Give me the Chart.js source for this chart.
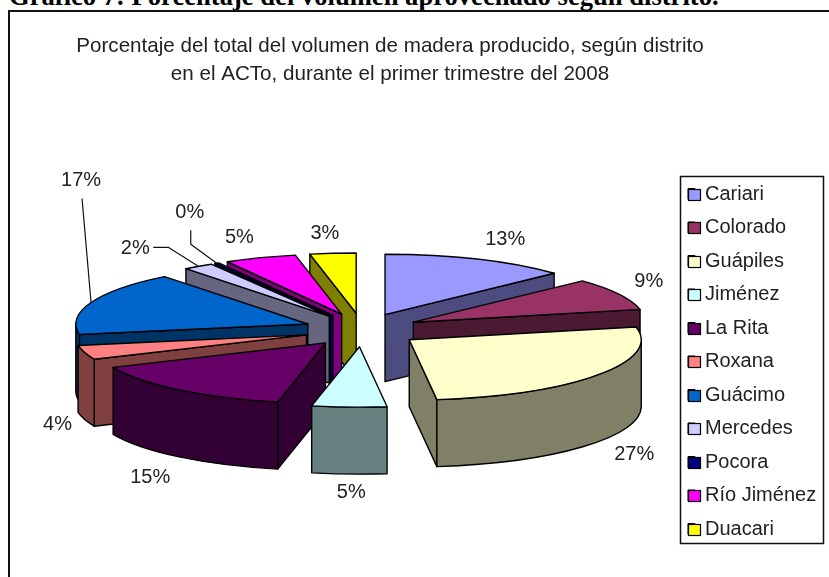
<!DOCTYPE html>
<html lang="es">
<head>
<meta charset="utf-8">
<style>
html,body{margin:0;padding:0;background:#fff;width:829px;height:577px;overflow:hidden}
#heading{position:absolute;left:9px;top:-17px;font:bold 26.6px/26px "Liberation Serif",serif;color:#000;white-space:nowrap}
#frame{position:absolute;left:8px;top:10px;width:900px;height:700px;border-left:2px solid #111;border-top:2px solid #111;box-sizing:border-box}
#wrap{position:absolute;left:0;top:0;width:829px;height:577px}
</style>
<script src="https://cdn.jsdelivr.net/npm/chart.js@4"></script>
</head>
<body>
<div id="heading">Gráfico 7: Porcentaje del volumen aprovechado según distrito.</div>
<div id="frame"></div>
<div id="wrap"><canvas id="c" width="829" height="577"></canvas></div>
<script>
const categories = ["Cariari","Colorado","Guápiles","Jiménez","La Rita","Roxana","Guácimo","Mercedes","Pocora","Río Jiménez","Duacari"];
const values = [13.0,8.6,26.5,5.2,15.1,3.8,17.2,2.1,0.3,5.0,3.2];
const topColors = ["#9999FF","#993366","#FFFFCC","#CCFFFF","#660066","#FF8080","#0066CC","#CCCCFF","#000080","#FF00FF","#FFFF00"];
const sideColors = ["#4C4C80","#4C1933","#808066","#668080","#330033","#804040","#003366","#666680","#000040","#800080","#808000"];
const titleLines = ["Porcentaje del total del volumen de madera producido, según distrito","en el ACTo, durante el primer trimestre del 2008"];
// label placement relative to each slice's rim point
const labelOffsets = [[28,-20],[30,-13],[36,13],[2,18],[-29,21],[-27,5],[-10,-122],[-63,-18],[-27,-51],[-21,-20],[-8,-20]];
const leaderStart = {6:[[1,18]],7:[[18,-1],[33,-1]],8:[[1,18],[1,32]]};

const PIE = {x:362,y:330,squash:0.26,depth:67,explode:58,explodeSquash:0.29};
const LEGEND = {x:680,y:176,w:144,h:368,pad:13.5,swW:12,swH:11,top:170.5};
const TXT = "#222";
const FONT = '"Liberation Sans",Arial,sans-serif';
const FS = 20;

function geom(arc){
  const p = arc.getProps(['startAngle','endAngle','outerRadius'],true);
  const a = p.startAngle+Math.PI/2, b = p.endAngle+Math.PI/2, m=(a+b)/2, r=p.outerRadius;
  const ax = PIE.x+PIE.explode*Math.sin(m);
  const ay = PIE.y-PIE.explode*PIE.explodeSquash*Math.cos(m);
  const pt=(t,h=0)=>[ax+r*Math.sin(t), ay-r*PIE.squash*Math.cos(t)+h];
  return {a,b,m,r,ax,ay,pt};
}
function arcPath(ctx,g,from,to,h){
  ctx.ellipse(g.ax,g.ay+h,g.r,g.r*PIE.squash,0,from-Math.PI/2,to-Math.PI/2,false);
}
function face(ctx,g,t,col){
  const q=g.pt(t), d=PIE.depth;
  ctx.beginPath();
  ctx.moveTo(g.ax,g.ay);ctx.lineTo(q[0],q[1]);ctx.lineTo(q[0],q[1]+d);ctx.lineTo(g.ax,g.ay+d);ctx.closePath();
  ctx.fillStyle=col;ctx.fill();ctx.stroke();
}
function drawSlice(ctx,g,i){
  ctx.strokeStyle="#000";ctx.lineWidth=1.4;ctx.lineJoin="round";
  const side=sideColors[i];
  if(g.a>Math.PI) face(ctx,g,g.a,side);
  if(g.b<Math.PI) face(ctx,g,g.b,side);
  const f=Math.max(g.a,Math.PI/2), t=Math.min(g.b,Math.PI*1.5);
  if(t>f){
    ctx.beginPath();
    arcPath(ctx,g,f,t,0);
    const e=g.pt(t,PIE.depth);ctx.lineTo(e[0],e[1]);
    ctx.ellipse(g.ax,g.ay+PIE.depth,g.r,g.r*PIE.squash,0,t-Math.PI/2,f-Math.PI/2,true);
    ctx.closePath();ctx.fillStyle=side;ctx.fill();ctx.stroke();
  }
  ctx.beginPath();ctx.moveTo(g.ax,g.ay);
  arcPath(ctx,g,g.a,g.b,0);ctx.closePath();
  ctx.fillStyle=topColors[i];ctx.fill();ctx.stroke();
}
const pie3d={
  id:'pie3d',
  afterLayout(chart){
    const t=chart.titleBlock, l=chart.legend;
    t.left=0;t.right=780;
    l.left=LEGEND.x+8-LEGEND.pad;l.right=LEGEND.x+LEGEND.w;l.top=LEGEND.top;l.bottom=577;
    l.width=l.right-l.left;l.height=l.bottom-l.top;
  },
  beforeDraw(chart){
    const ctx=chart.ctx;
    ctx.save();ctx.strokeStyle="#111";ctx.lineWidth=1.5;ctx.fillStyle="#fff";
    ctx.beginPath();ctx.rect(LEGEND.x+0.5,LEGEND.y+0.5,LEGEND.w-1,LEGEND.h-1);ctx.fill();ctx.stroke();ctx.restore();
  },
  beforeDatasetsDraw(chart){
    const ctx=chart.ctx, arcs=chart.getDatasetMeta(0).data;
    const gs=arcs.map(geom);
    const order=gs.map((g,i)=>i).sort((p,q)=>(-Math.cos(gs[p].m))-(-Math.cos(gs[q].m)));
    ctx.save();
    order.forEach(i=>drawSlice(ctx,gs[i],i));
    const total=values.reduce((s,v)=>s+v,0);
    ctx.font=FS+'px '+FONT;ctx.textAlign='center';ctx.textBaseline='middle';
    gs.forEach((g,i)=>{
      const rim=g.pt(g.m,(i<=5&&i>=2)?PIE.depth:0);
      const lx=rim[0]+labelOffsets[i][0], ly=rim[1]+labelOffsets[i][1];
      ctx.fillStyle=TXT;
      ctx.fillText(Math.round(values[i]/total*100)+'%',lx,ly);
      if(leaderStart[i]){
        ctx.beginPath();ctx.strokeStyle="#111";ctx.lineWidth=1.2;
        leaderStart[i].forEach((o,k)=>{k?ctx.lineTo(lx+o[0],ly+o[1]):ctx.moveTo(lx+o[0],ly+o[1]);});
        ctx.lineTo(rim[0],rim[1]);ctx.stroke();
      }
    });
    ctx.restore();
    return false;
  },
  afterDraw(chart){
    const ctx=chart.ctx;
    ctx.save();ctx.strokeStyle="#000";ctx.lineWidth=1.2;
    topColors.forEach((col,i)=>{
      const rowTop=LEGEND.top+LEGEND.pad+i*(FS+LEGEND.pad);
      const y=Math.round(rowTop+(FS-LEGEND.swH)/2)+0.5, x=LEGEND.x+8.5;
      ctx.fillStyle=col;
      ctx.fillRect(x,y,LEGEND.swW,LEGEND.swH);ctx.strokeRect(x,y,LEGEND.swW,LEGEND.swH);
    });
    ctx.restore();
  }
};
new Chart(document.getElementById('c'),{
  type:'pie',
  data:{labels:categories,datasets:[{data:values,backgroundColor:topColors,borderColor:"#000",borderWidth:1,radius:232}]},
  plugins:[pie3d],
  options:{
    responsive:false,animation:false,
    layout:{padding:{left:0,right:5,top:0,bottom:0}},
    plugins:{
      tooltip:{enabled:false},
      title:{display:true,text:titleLines,color:TXT,font:{family:FONT,size:20.6,weight:'normal',lineHeight:1.335},padding:{top:33,bottom:10}},
      legend:{display:true,position:'right',align:'start',
        labels:{boxWidth:7,boxHeight:11,padding:LEGEND.pad,color:TXT,font:{family:FONT,size:FS}}}
    }
  }
});
</script>
</body>
</html>
